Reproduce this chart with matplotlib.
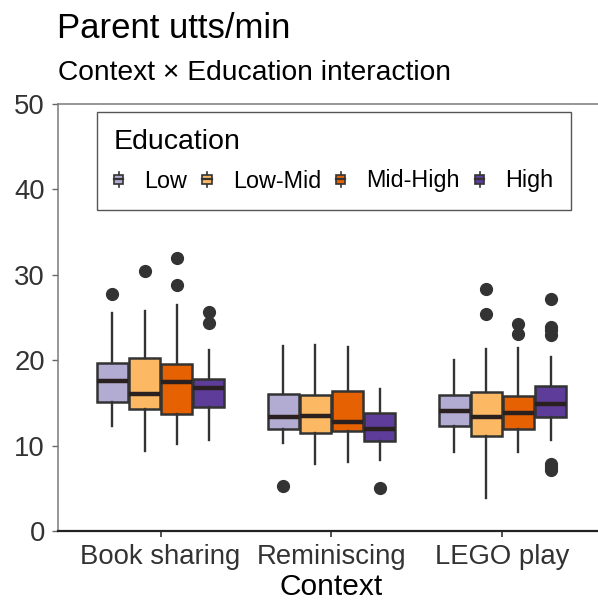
import matplotlib
matplotlib.use("Agg")
import matplotlib.pyplot as plt
from matplotlib.legend_handler import HandlerBase
from matplotlib.lines import Line2D
from matplotlib.patches import Patch, Rectangle

plt.rcParams["font.family"] = ["Liberation Sans", "DejaVu Sans"]

contexts = ["Book sharing", "Reminiscing", "LEGO play"]
education = ["Low", "Low-Mid", "Mid-High", "High"]
edu_colors = ["#b2abd2", "#fdb863", "#e66101", "#5e3c99"]

# box summaries per context, one entry per education level
q1 = [
    [15.1, 14.3, 13.7, 14.5],
    [12.0, 11.5, 11.7, 10.5],
    [12.3, 11.1, 11.9, 13.3],
]
median = [
    [17.6, 16.0, 17.5, 16.8],
    [13.4, 13.5, 12.8, 12.0],
    [14.0, 13.4, 13.8, 14.9],
]
q3 = [
    [19.7, 20.3, 19.5, 17.8],
    [16.0, 15.9, 16.4, 13.8],
    [15.9, 16.3, 15.8, 17.0],
]
whisk_lo = [
    [12.3, 9.4, 10.2, 10.7],
    [10.3, 7.9, 8.1, 8.3],
    [9.2, 3.9, 9.2, 10.6],
]
whisk_hi = [
    [25.5, 25.8, 26.5, 21.2],
    [21.7, 21.8, 21.6, 16.6],
    [20.0, 21.3, 21.4, 20.4],
]
outliers = [
    [[27.8], [30.5], [28.8, 32.0], [24.4, 25.6]],
    [[5.3], [], [], [5.0]],
    [[], [25.4, 28.3], [23.1, 24.2], [7.1, 7.5, 7.9, 23.0, 23.5, 23.9, 27.2]],
]

EDGE = "#333333"


class BoxKey(HandlerBase):
    """Small boxplot glyph for the legend keys."""

    def create_artists(self, legend, orig_handle, xdescent, ydescent,
                       width, height, fontsize, trans):
        x0, y0 = -xdescent, -ydescent
        bh = height * 0.6
        by = y0 + (height - bh) / 2
        box = Rectangle((x0, by), width, bh, facecolor=orig_handle.get_facecolor(),
                        edgecolor=EDGE, lw=1.2, transform=trans)
        cx = x0 + width / 2
        top = Line2D([cx, cx], [by + bh, y0 + height], color=EDGE, lw=1.2, transform=trans)
        bot = Line2D([cx, cx], [y0, by], color=EDGE, lw=1.2, transform=trans)
        mid = Line2D([x0, x0 + width], [by + bh / 2] * 2, color=EDGE, lw=1.6, transform=trans)
        return [top, bot, box, mid]


fig = plt.figure(figsize=(5.98, 6.01), dpi=100)
W, H = 598, 601
ax = fig.add_axes([58 / W, (H - 531) / H, 547 / W, 427 / H])

dodge = 0.1875
box_w = 0.18
for ci in range(len(contexts)):
    for ei in range(len(education)):
        pos = ci + 1 + (ei - 1.5) * dodge
        stats = [{
            "med": median[ci][ei], "q1": q1[ci][ei], "q3": q3[ci][ei],
            "whislo": whisk_lo[ci][ei], "whishi": whisk_hi[ci][ei],
            "fliers": outliers[ci][ei],
        }]
        ax.bxp(
            stats, positions=[pos], widths=box_w, patch_artist=True,
            showcaps=False, manage_ticks=False,
            boxprops=dict(facecolor=edu_colors[ei], edgecolor=EDGE, lw=1.8),
            whiskerprops=dict(color=EDGE, lw=1.7),
            medianprops=dict(color="#2a2020", lw=3.2, solid_capstyle="butt"),
            flierprops=dict(marker="o", markersize=8.5, markerfacecolor=EDGE,
                            markeredgecolor=EDGE),
        )

ax.set_xlim(0.4, 3.6)
ax.set_ylim(0, 50)
ax.set_xticks([1, 2, 3])
ax.set_xticklabels(contexts)
ax.set_yticks(range(0, 51, 10))
ax.tick_params(axis="x", labelsize=19.8, length=4, width=1.2, color="#333333",
               labelcolor="#333333", pad=5)
ax.tick_params(axis="y", labelsize=19.8, length=4.5, width=1.0, color="#666666",
               labelcolor="#333333", pad=5)

ax.spines["right"].set_visible(False)
for side in ("left", "top"):
    ax.spines[side].set_color("#7a7a7a")
    ax.spines[side].set_linewidth(1.1)
ax.spines["bottom"].set_color("#222222")
ax.spines["bottom"].set_linewidth(1.6)

handles = [Patch(facecolor=c) for c in edu_colors]
leg = ax.legend(
    handles, education, title="Education", ncol=4,
    loc="upper left", bbox_to_anchor=((97 - 58) / 547, (531 - 112) / 427),
    borderaxespad=0, frameon=True, fancybox=False, framealpha=1,
    edgecolor="#555555", fontsize=16.8, title_fontsize=20.5,
    handlelength=0.4, handleheight=0.6, handletextpad=0.9,
    columnspacing=0.65, borderpad=0.73, labelspacing=0.62, alignment="left",
    handler_map={Patch: BoxKey()},
)
leg.get_frame().set_linewidth(1.0)

fig.text(57 / W, (H - 38) / H, "Parent utts/min", fontsize=25, va="baseline", ha="left")
fig.text(58 / W, (H - 80) / H, "Context \u00d7 Education interaction", fontsize=20.3,
         va="baseline", ha="left")
fig.text(331 / W, (H - 595) / H, "Context", fontsize=21.5, va="baseline", ha="center")

fig.savefig("out.png", dpi=100)
